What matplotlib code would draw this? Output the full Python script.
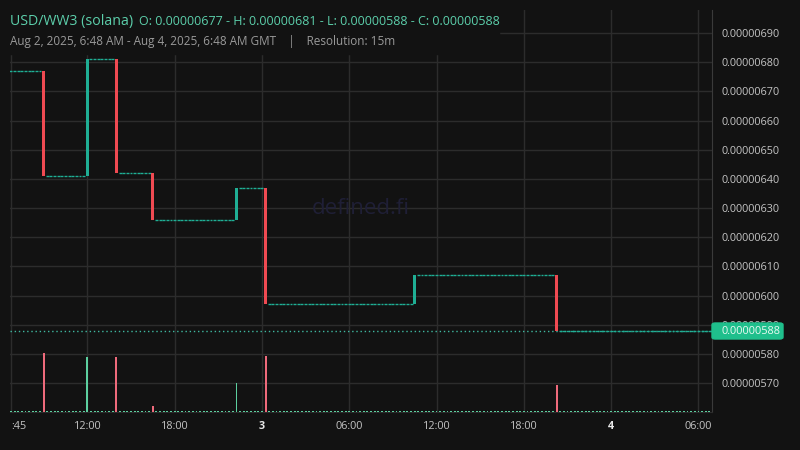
import matplotlib.pyplot as plt
from matplotlib.patches import Rectangle, FancyBboxPatch

plt.rcParams["font.family"] = ["Open Sans", "DejaVu Sans"]

# candles that moved (time in hours from Aug 2 00:00 GMT, price in 1e-8)
move_times = [9.0, 12.0, 14.0, 16.5, 22.25, 24.25, 34.5, 44.25]
move_open = [677, 641, 681, 642, 626, 637, 597, 607]
move_close = [641, 681, 642, 626, 637, 597, 607, 588]
move_volume = [59, 55, 55, 6, 29, 56, 0.5, 27]
start_price = 677
flat_volume = 0.5
first_slot = 6.75
last_slot = 54.75

price_ticks = [570, 580, 590, 600, 610, 620, 630, 640, 650, 660, 670, 680, 690]
time_ticks = [6.75, 12, 18, 24, 30, 36, 42, 48, 54]
time_labels = [":45", "12:00", "18:00", "3", "06:00", "12:00", "18:00", "4", "06:00"]
last_price = 588

BG = "#121212"
GRID = "#2c2c2c"
UP = "#1fae94"
DOWN = "#ef4a52"
VUP = "#5ccf9f"
VDOWN = "#ee6a7b"

# build the 15m candle list
slots, opens, closes, vols = [], [], [], []
moves = {round(t * 4): i for i, t in enumerate(move_times)}
price = start_price
n = int(round((last_slot - first_slot) * 4)) + 1
for k in range(n):
    t = first_slot + k * 0.25
    key = round(t * 4)
    if key in moves:
        i = moves[key]
        o, c, v = move_open[i], move_close[i], move_volume[i]
    else:
        o, c, v = price, price, flat_volume
    slots.append(t)
    opens.append(o)
    closes.append(c)
    vols.append(v)
    price = c

fig = plt.figure(figsize=(8, 4.5), dpi=100, facecolor=BG)
ax = fig.add_axes([10 / 800, 38 / 450, 702 / 800, 402 / 450])
ax.set_facecolor(BG)

# volume on a twin axis
ax2 = ax.twinx()
vcols = [VUP if c >= o else VDOWN for o, c in zip(opens, closes)]
ax2.bar(slots, vols, width=0.13, color=vcols, linewidth=0, zorder=2)
ax2.set_ylim(0, max(vols) * 6.8)
ax2.set_yticks([])
for s in ax2.spines.values():
    s.set_visible(False)

sc = 1e-8
for t, o, c in zip(slots, opens, closes):
    col = UP if c >= o else DOWN
    if o == c:
        ax.hlines(o * sc, t - 0.1, t + 0.1, color=col, lw=1, zorder=3)
    else:
        ax.bar(t, (c - o) * sc, bottom=o * sc, width=0.19, color=col,
               linewidth=0, zorder=3)

ax.axhline(last_price * sc, color="#3fb8a0", lw=1, ls=(0, (1, 2)), zorder=2)

ax.set_xlim(6.687, 54.93)
ax.set_ylim(560.1 * sc, 697.9 * sc)
ax.set_yticks([p * sc for p in price_ticks])
ax.set_yticklabels(["%.8f" % (p * sc) for p in price_ticks])
ax.set_xticks(time_ticks)
ax.set_xticklabels(time_labels)
ax.yaxis.tick_right()
ax.yaxis.set_label_position("right")
ax.tick_params(axis="y", length=0, pad=7, labelsize=7.8, labelcolor="#c4c4c4",
               left=False, labelleft=False, right=False, labelright=True)
ax.tick_params(axis="x", length=0, pad=6.5, labelsize=7.8, labelcolor="#c4c4c4")
for lbl in ax.get_xticklabels():
    if lbl.get_text() in ("3", "4"):
        lbl.set_fontweight("bold")
        lbl.set_color("#e8e8e8")
ax.get_xticklabels()[0].set_horizontalalignment("left")
ax.grid(True, color=GRID, lw=1)
ax.set_axisbelow(True)
for s in ["top", "left"]:
    ax.spines[s].set_visible(False)
ax.spines["right"].set_color("#3a3a3a")
ax.spines["bottom"].set_color(GRID)

ax.text(0.5, 0.506, "defined.fi", transform=ax.transAxes, ha="center",
        va="center", fontsize=16, color="#1f1f36", zorder=1)

# last price tag
fig.add_artist(FancyBboxPatch((712 / 800, 1 - 339 / 450), 71 / 800, 16 / 450,
                              boxstyle="round,pad=0,rounding_size=0.004",
                              transform=fig.transFigure, color="#1fbf8c",
                              zorder=6))
fig.text(721 / 800, 1 - 331 / 450, "%.8f" % (last_price * sc), fontsize=7.9,
         color="#eafaf3", va="center", ha="left", zorder=7)

# header
fig.add_artist(Rectangle((0, 1 - 54 / 450), 499 / 800, 54 / 450,
                         transform=fig.transFigure, color=BG, zorder=5))
fig.text(10 / 800, 1 - 25 / 450, "USD/WW3 (solana)", fontsize=10.2,
         color="#5ccfab", va="baseline", zorder=6)
fig.text(139 / 800, 1 - 25 / 450,
         "O: 0.00000677 - H: 0.00000681 - L: 0.00000588 - C: 0.00000588",
         fontsize=9, color="#5ccfab", va="baseline", zorder=6)
fig.text(10 / 800, 1 - 45 / 450,
         "Aug 2, 2025, 6:48 AM - Aug 4, 2025, 6:48 AM GMT    |    Resolution: 15m",
         fontsize=8.5, color="#9a9a9a", va="baseline", zorder=6)

fig.savefig("out.png", dpi=100, facecolor=BG)
